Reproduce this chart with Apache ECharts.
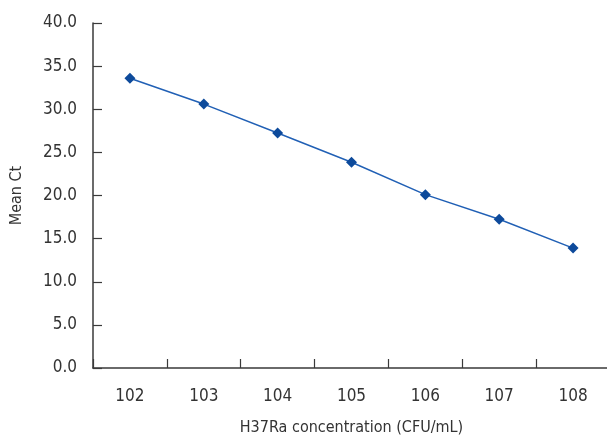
<!DOCTYPE html>
<html><head><meta charset="utf-8">
<script src="https://cdn.jsdelivr.net/npm/echarts@6/dist/echarts.min.js"></script>
<style>html,body{margin:0;padding:0;background:#fff}#c{width:607px;height:441px}</style>
</head><body><div id="c"></div>
<script>
const categories = ['102','103','104','105','106','107','108'];
const meanCt = [33.6, 30.6, 27.25, 23.85, 20.1, 17.25, 13.9];
const yTicks = {min: 0, max: 40, interval: 5};
const FONT = '"Liberation Sans Narrow", "DejaVu Sans Condensed", sans-serif';
const axisColor = '#3a3a3a';
const chart = echarts.init(document.getElementById('c'), null, {renderer: 'canvas'});
chart.setOption({
  animation: false,
  backgroundColor: '#fff',
  grid: {left: 93, top: 23, width: 517, height: 345, containLabel: false, outerBoundsMode: 'none'},
  xAxis: {
    type: 'category', data: categories, boundaryGap: true,
    name: 'H37Ra concentration (CFU/mL)', nameLocation: 'middle', nameGap: 52,
    nameTextStyle: {fontFamily: FONT, fontSize: 16, color: '#333'},
    axisLine: {show: true, lineStyle: {color: axisColor, width: 1.5}},
    axisTick: {show: true, inside: true, length: 9, alignWithLabel: false, interval: 0,
      lineStyle: {color: axisColor, width: 1.2}},
    axisLabel: {fontFamily: FONT, fontSize: 17, color: '#333', margin: 20},
    splitLine: {show: false}
  },
  yAxis: {
    type: 'value', min: yTicks.min, max: yTicks.max, interval: yTicks.interval,
    name: 'Mean Ct', nameLocation: 'middle', nameGap: 68, nameRotate: 90,
    nameTextStyle: {fontFamily: FONT, fontSize: 16, color: '#333'},
    axisLine: {show: true, lineStyle: {color: axisColor, width: 1.5}},
    axisTick: {show: true, inside: true, length: 9, lineStyle: {color: axisColor, width: 1.2}},
    axisLabel: {fontFamily: FONT, fontSize: 17, color: '#333', margin: 16,
      formatter: v => v.toFixed(1)},
    splitLine: {show: false}
  },
  series: [{
    type: 'line', data: meanCt,
    symbol: 'diamond', symbolSize: 11,
    lineStyle: {color: '#2160b5', width: 1.5},
    itemStyle: {color: '#0d4a9b'}
  }]
});
</script></body></html>
